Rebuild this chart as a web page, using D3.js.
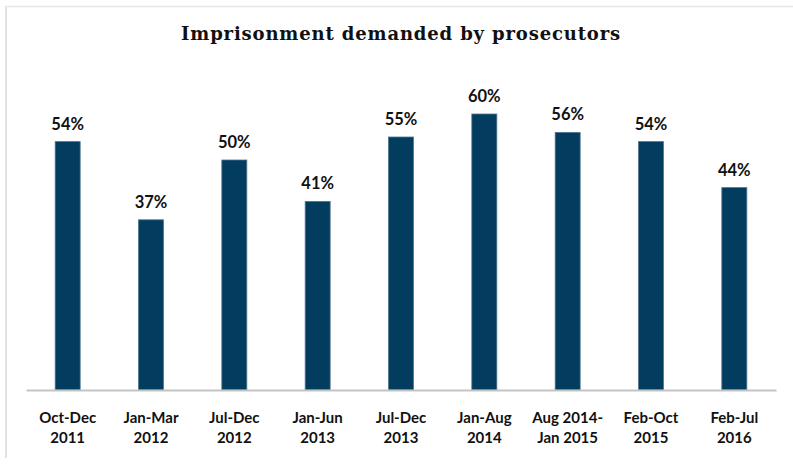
<!DOCTYPE html>
<html>
<head>
<meta charset="utf-8">
<script src="https://d3js.org/d3.v7.min.js"></script>
<style>
  body { margin: 0; background: #fff; }
  svg { display: block; }
</style>
</head>
<body>
<svg id="chart"></svg>
<script>
var viewWidth = 793;
var viewHeight = 465;

// data
var periods = [
  ["Oct-Dec", "2011"],
  ["Jan-Mar", "2012"],
  ["Jul-Dec", "2012"],
  ["Jan-Jun", "2013"],
  ["Jul-Dec", "2013"],
  ["Jan-Aug", "2014"],
  ["Aug 2014-", "Jan 2015"],
  ["Feb-Oct", "2015"],
  ["Feb-Jul", "2016"]
];
var shares = [54, 37, 50, 41, 55, 60, 56, 54, 44];
var chartTitle = "Imprisonment demanded by prosecutors";

var margin = {top: 68, right: 17, bottom: 75, left: 26};
var width = viewWidth - margin.left - margin.right;
var height = viewHeight - margin.top - margin.bottom;

var svg = d3.select("#chart")
    .attr("width", viewWidth)
    .attr("height", viewHeight);

// light frame on the left and top
svg.append("line")
    .attr("x1", 6).attr("x2", 6)
    .attr("y1", 6).attr("y2", 458)
    .attr("stroke", "#e2e2e2")
    .attr("stroke-width", 2);
svg.append("line")
    .attr("x1", 5).attr("x2", 793)
    .attr("y1", 6.5).attr("y2", 6.5)
    .attr("stroke", "#e6e6e6")
    .attr("stroke-width", 1.5);

svg.append("text")
    .attr("x", 401)
    .attr("y", 40)
    .attr("text-anchor", "middle")
    .style("font-family", "'DejaVu Serif', 'Liberation Serif', serif")
    .style("font-weight", "bold")
    .style("font-size", "18px")
    .style("letter-spacing", "0.85px")
    .style("fill", "#111")
    .text(chartTitle);

var g = svg.append("g")
    .attr("transform", "translate(" + margin.left + "," + margin.top + ")");

var x = d3.scaleBand()
    .domain(d3.range(shares.length))
    .range([0, width])
    .paddingInner(0.7)
    .paddingOuter(0.35);

var y = d3.scaleLinear()
    .domain([0, 70])
    .range([height, 0]);

g.selectAll(".bar")
    .data(shares)
  .enter().append("rect")
    .attr("class", "bar")
    .attr("x", function(d, i) { return x(i); })
    .attr("y", function(d) { return y(d); })
    .attr("width", x.bandwidth())
    .attr("height", function(d) { return height - y(d); })
    .style("fill", "#023c5e")
    .style("stroke", "#4f7690")
    .style("stroke-width", 0.8);

g.selectAll(".value")
    .data(shares)
  .enter().append("text")
    .attr("class", "value")
    .attr("x", function(d, i) { return x(i) + x.bandwidth() / 2; })
    .attr("y", function(d) { return y(d) - 12; })
    .attr("text-anchor", "middle")
    .style("font-family", "Lato, 'Open Sans', sans-serif")
    .style("font-weight", "bold")
    .style("font-size", "16.5px")
    .style("fill", "#111")
    .text(function(d) { return d + "%"; });

var xAxis = d3.axisBottom(x)
    .tickSize(0)
    .tickFormat("");

var axisG = g.append("g")
    .attr("class", "x axis")
    .attr("transform", "translate(0," + height + ")")
    .call(xAxis);
axisG.select(".domain")
    .attr("stroke", "#c4c4c4")
    .attr("stroke-width", 2);

var labels = g.selectAll(".cat")
    .data(periods)
  .enter().append("text")
    .attr("class", "cat")
    .attr("x", function(d, i) { return x(i) + x.bandwidth() / 2; })
    .attr("y", height + 33)
    .attr("text-anchor", "middle")
    .style("font-family", "Lato, 'Open Sans', sans-serif")
    .style("font-weight", "bold")
    .style("font-size", "15px")
    .style("fill", "#111");

labels.append("tspan")
    .attr("x", function(d, i) { return x(i) + x.bandwidth() / 2; })
    .text(function(d) { return d[0]; });
labels.append("tspan")
    .attr("x", function(d, i) { return x(i) + x.bandwidth() / 2; })
    .attr("dy", 20)
    .text(function(d) { return d[1]; });
</script>
</body>
</html>
